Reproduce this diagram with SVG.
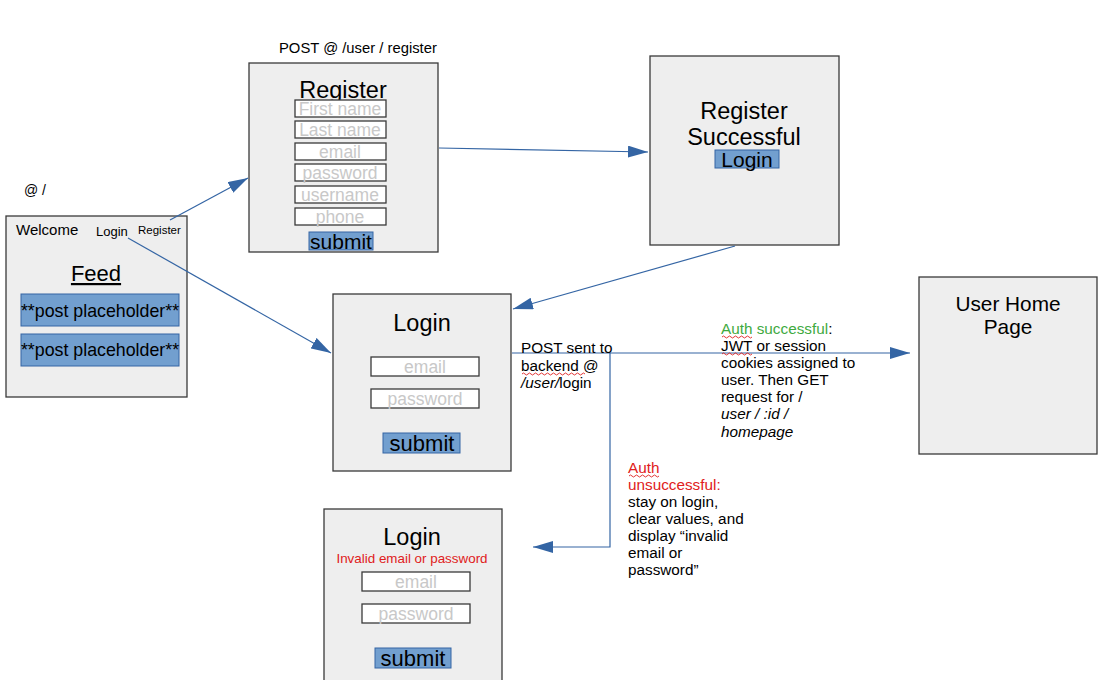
<svg xmlns="http://www.w3.org/2000/svg" width="1107" height="680" viewBox="0 0 1107 680">
  <style>
    text { font-family: "Liberation Sans", Arial, sans-serif; fill: #000; }
    .box { fill: #eeeeee; stroke: #3a3a3a; stroke-width: 1.3; }
    .field { fill: #ffffff; stroke: #3a3a3a; stroke-width: 1.3; }
    .btn { fill: #729fcf; stroke: #3465a4; stroke-width: 1; }
    .ph { fill: #c8c8c8; }
    .red { fill: #e02020; }
    .green { fill: #3faa3f; }
    .note { font-size: 15.3px; }
    .edge { fill: none; stroke: #3465a4; stroke-width: 1.2; }
    .wave { fill: none; stroke: #e02020; stroke-width: 0.9; }
  </style>
  <defs>
    <marker id="arrow" viewBox="0 0 20 12" refX="20" refY="6" markerWidth="20" markerHeight="12" markerUnits="userSpaceOnUse" orient="auto">
      <path d="M0,0 L20,6 L0,12 Z" fill="#3465a4"/>
    </marker>
  </defs>

  <rect width="1107" height="680" fill="#ffffff"/>

  <!-- labels outside nodes -->
  <text x="24" y="195" font-size="14">@ /</text>
  <text x="279" y="53" font-size="14.8">POST @ /user / register</text>

  <!-- landing page -->
  <g id="welcome">
    <rect class="box" x="6" y="216" width="181" height="181"/>
    <text x="16" y="235" font-size="15">Welcome</text>
    <text x="96" y="236" font-size="13">Login</text>
    <text x="138" y="234" font-size="11.5">Register</text>
    <text x="96" y="281" font-size="22" text-anchor="middle" text-decoration="underline">Feed</text>
    <rect class="btn" x="21" y="294" width="158" height="32"/>
    <text x="100" y="317" font-size="17.8" text-anchor="middle">**post placeholder**</text>
    <rect class="btn" x="21" y="334" width="158" height="32"/>
    <text x="100" y="356" font-size="17.8" text-anchor="middle">**post placeholder**</text>
  </g>

  <!-- register form -->
  <g id="register">
    <rect class="box" x="249" y="63" width="189" height="189"/>
    <text x="343" y="98" font-size="23.5" text-anchor="middle">Register</text>
    <rect class="field" x="295" y="100" width="91" height="17"/>
    <text class="ph" x="340" y="115" font-size="17.5" text-anchor="middle">First name</text>
    <rect class="field" x="295" y="121" width="91" height="17"/>
    <text class="ph" x="340" y="136" font-size="17.5" text-anchor="middle">Last name</text>
    <rect class="field" x="295" y="143" width="91" height="17"/>
    <text class="ph" x="340" y="158" font-size="17.5" text-anchor="middle">email</text>
    <rect class="field" x="295" y="164" width="91" height="17"/>
    <text class="ph" x="340" y="179" font-size="17.5" text-anchor="middle">password</text>
    <rect class="field" x="295" y="186" width="91" height="17"/>
    <text class="ph" x="340" y="201" font-size="17.5" text-anchor="middle">username</text>
    <rect class="field" x="295" y="208" width="91" height="17"/>
    <text class="ph" x="340" y="223" font-size="17.5" text-anchor="middle">phone</text>
    <rect class="btn" x="309" y="232" width="64" height="18"/>
    <text x="341" y="249" font-size="21" text-anchor="middle">submit</text>
  </g>

  <!-- registration confirmation -->
  <g id="register-success">
    <rect class="box" x="650" y="56" width="189" height="189"/>
    <text x="744" y="119" font-size="23.5" text-anchor="middle">Register</text>
    <text x="744" y="145" font-size="23.5" text-anchor="middle">Successful</text>
    <rect class="btn" x="715" y="150" width="64" height="18"/>
    <text x="747" y="167" font-size="21" text-anchor="middle">Login</text>
  </g>

  <!-- login form -->
  <g id="login">
    <rect class="box" x="333" y="294" width="178" height="177"/>
    <text x="422" y="331" font-size="23.5" text-anchor="middle">Login</text>
    <rect class="field" x="371" y="357" width="108" height="19"/>
    <text class="ph" x="425" y="373" font-size="17.5" text-anchor="middle">email</text>
    <rect class="field" x="371" y="389" width="108" height="19"/>
    <text class="ph" x="425" y="405" font-size="17.5" text-anchor="middle">password</text>
    <rect class="btn" x="383" y="433" width="77" height="20"/>
    <text x="422" y="451" font-size="22" text-anchor="middle">submit</text>
  </g>

  <!-- user home -->
  <g id="user-home">
    <rect class="box" x="919" y="277" width="178" height="177"/>
    <text x="1008" y="311" font-size="20.8" text-anchor="middle">User Home</text>
    <text x="1008" y="334" font-size="20.8" text-anchor="middle">Page</text>
  </g>

  <!-- login form with error -->
  <g id="login-error">
    <rect class="box" x="324" y="509" width="178" height="190"/>
    <text x="412" y="545" font-size="23.5" text-anchor="middle">Login</text>
    <text class="red" x="412" y="563" font-size="13.4" text-anchor="middle">Invalid email or password</text>
    <rect class="field" x="362" y="572" width="108" height="19"/>
    <text class="ph" x="416" y="588" font-size="17.5" text-anchor="middle">email</text>
    <rect class="field" x="362" y="604" width="108" height="19"/>
    <text class="ph" x="416" y="620" font-size="17.5" text-anchor="middle">password</text>
    <rect class="btn" x="375" y="648" width="76" height="20"/>
    <text x="413" y="666" font-size="22" text-anchor="middle">submit</text>
  </g>

  <!-- connectors -->
  <g id="connectors">
    <path class="edge" d="M170,220 L248,178" marker-end="url(#arrow)"/>
    <path class="edge" d="M128,238 L331,353" marker-end="url(#arrow)"/>
    <path class="edge" d="M439,148 L648,152" marker-end="url(#arrow)"/>
    <path class="edge" d="M735,246 L513,309" marker-end="url(#arrow)"/>
    <path class="edge" d="M512,353 L910,353" marker-end="url(#arrow)"/>
    <path class="edge" d="M610,353 L610,547 L533,547" marker-end="url(#arrow)"/>
  </g>

  <!-- annotations -->
  <g id="notes">
    <text class="note" x="521" y="353">POST sent to</text>
    <text class="note" x="521" y="371">backend @</text>
    <path class="wave" d="M522,374 q1.5,-2 3,0 t3,0 t3,0 t3,0 t3,0 t3,0 t3,0 t3,0 t3,0 t3,0 t3,0 t3,0 t3,0 t3,0 t3,0 t3,0 t3,0 t3,0 t3,0 t3,0 t3,0"/>
    <text class="note" x="521" y="388"><tspan font-style="italic">/user/</tspan>login</text>

    <text class="note" x="721" y="334"><tspan class="green">Auth successful</tspan>:</text>
    <path class="wave" d="M722,337 q1.5,-2 3,0 t3,0 t3,0 t3,0 t3,0 t3,0 t3,0 t3,0 t3,0 t3,0"/>
    <text class="note" x="721" y="351">JWT or session</text>
    <path class="wave" d="M722,354 q1.5,-2 3,0 t3,0 t3,0 t3,0 t3,0 t3,0 t3,0 t3,0 t3,0 t3,0"/>
    <text class="note" x="721" y="368">cookies assigned to</text>
    <text class="note" x="721" y="385">user. Then GET</text>
    <text class="note" x="721" y="402">request for /</text>
    <text class="note" x="721" y="419" font-style="italic">user / :id /</text>
    <text class="note" x="721" y="437" font-style="italic">homepage</text>

    <text class="note red" x="628" y="473">Auth</text>
    <path class="wave" d="M629,476 q1.5,-2 3,0 t3,0 t3,0 t3,0 t3,0 t3,0 t3,0 t3,0 t3,0 t3,0"/>
    <text class="note red" x="628" y="490">unsuccessful:</text>
    <text class="note" x="628" y="507">stay on login,</text>
    <text class="note" x="628" y="524">clear values, and</text>
    <text class="note" x="628" y="541">display “invalid</text>
    <text class="note" x="628" y="558">email or</text>
    <text class="note" x="628" y="575">password”</text>
  </g>
</svg>
